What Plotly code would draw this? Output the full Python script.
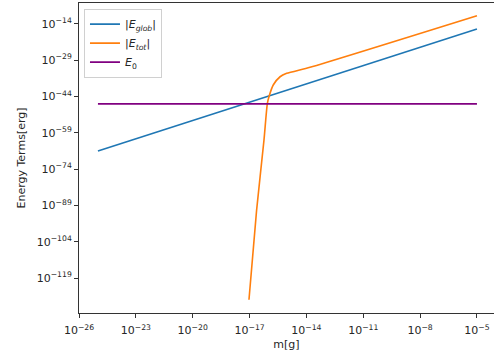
import plotly.graph_objects as go

# Data (log10 values)
m_glob = [1e-25, 1e-5]
E_glob = [10**-66.6, 10**-16.2]

m_tot = [10**-17.03, 10**-16.63, 10**-16.24, 10**-16.06, 10**-15.96, 10**-15.75,
         10**-15.39, 10**-15.04, 10**-13.81, 10**-5.0]
E_tot = [10**-128.0, 10**-91.2, 10**-62.2, 10**-46.9, 10**-43.75, 10**-39.3,
         10**-35.9, 10**-34.5, 10**-32.0, 10**-10.7]

m_E0 = [1e-25, 1e-5]
E0 = [10**-47.1, 10**-47.1]

x_ticks = [-26, -23, -20, -17, -14, -11, -8, -5]
y_ticks = [-119, -104, -89, -74, -59, -44, -29, -14]

fig = go.Figure()
fig.add_trace(go.Scatter(x=m_glob, y=E_glob, mode="lines",
                         name="|<i>E</i><sub><i>glob</i></sub>|",
                         line=dict(color="#1f77b4", width=1.6)))
fig.add_trace(go.Scatter(x=m_tot, y=E_tot, mode="lines",
                         name="|<i>E</i><sub><i>tot</i></sub>|",
                         line=dict(color="#ff7f0e", width=1.6, shape="spline", smoothing=0.6)))
fig.add_trace(go.Scatter(x=m_E0, y=E0, mode="lines",
                         name="<i>E</i><sub>0</sub>",
                         line=dict(color="purple", width=1.6)))

font = "DejaVu Sans"
fig.update_layout(
    width=494, height=363,
    margin=dict(l=79, r=0, t=3, b=50),
    paper_bgcolor="white", plot_bgcolor="white",
    font=dict(family=font, size=11, color="#262626"),
    showlegend=True,
    legend=dict(x=0.012, y=0.982, xanchor="left", yanchor="top",
                bgcolor="rgba(255,255,255,0.8)", bordercolor="#d0d0d0", borderwidth=1,
                font=dict(family=font, size=11, color="#262626"),
                tracegroupgap=0, itemwidth=30),
)
fig.update_xaxes(
    type="log", range=[-26, -4.10],
    tickvals=[10**v for v in x_ticks],
    ticktext=[f"10<sup>\u2212{abs(v)}</sup>" for v in x_ticks],
    tickfont=dict(family=font, size=11, color="#262626"),
    ticklabelstandoff=3,
    showgrid=False, zeroline=False,
    showline=True, linecolor="#333333", linewidth=1, mirror=True,
    ticks="outside", ticklen=4, tickwidth=1, tickcolor="#333333",
    title=dict(text="m[g]", standoff=4, font=dict(family=font, size=11, color="#262626")),
)
fig.update_yaxes(
    type="log", range=[-133.45, -5.45],
    tickvals=[10**v for v in y_ticks],
    ticktext=[f"10<sup>\u2212{abs(v)}</sup>" for v in y_ticks],
    tickfont=dict(family=font, size=11, color="#262626"),
    showgrid=False, zeroline=False,
    showline=True, linecolor="#333333", linewidth=1, mirror=False,
    ticks="outside", ticklen=4, tickwidth=1, tickcolor="#333333",
    title=dict(text="Energy Terms[erg]", standoff=8, font=dict(family=font, size=11, color="#262626")),
)
fig.write_html("out.html")
